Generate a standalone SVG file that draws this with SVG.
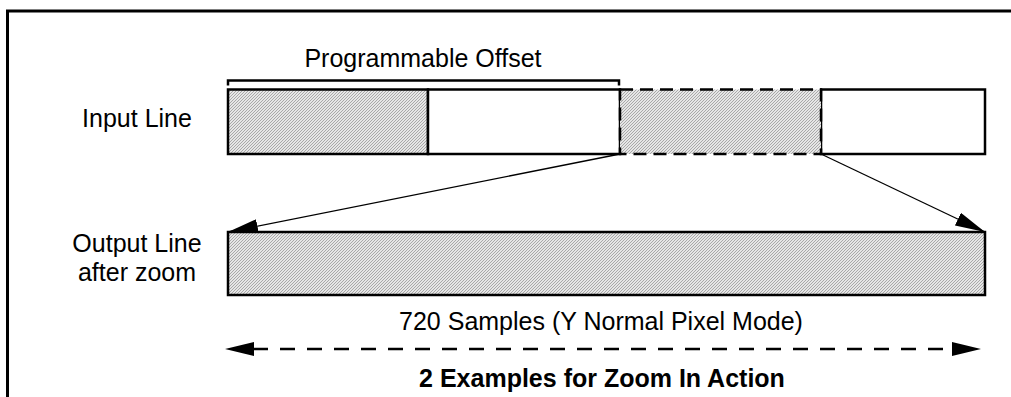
<svg xmlns="http://www.w3.org/2000/svg" width="1011" height="397" viewBox="0 0 1011 397">
  <style>
    .lbl { font-family: "Liberation Sans", Arial, Helvetica, sans-serif; font-size: 25px; fill: #000; }
    .bold { font-weight: bold; }
    .box { stroke: #000; stroke-width: 2.5; }
    .dash { stroke-dasharray: 13 7; }
    .conn { stroke: #000; stroke-width: 1.3; fill: none; }
  </style>
  <defs>
    <pattern id="hatch" width="3" height="3" patternUnits="userSpaceOnUse">
      <rect width="3" height="3" fill="#e6e6e6"/>
      <rect x="0" y="2" width="1" height="1" fill="#a8a8a8"/>
      <rect x="1" y="1" width="1" height="1" fill="#a8a8a8"/>
      <rect x="2" y="0" width="1" height="1" fill="#a8a8a8"/>
    </pattern>
    <marker id="ah" viewBox="0 0 30 14" refX="30" refY="7" markerWidth="30" markerHeight="14" markerUnits="userSpaceOnUse" orient="auto">
      <path d="M0 0 L30 7 L0 14 Z" fill="#000"/>
    </marker>
  </defs>

  <g id="frame" fill="none" stroke="#000" stroke-width="3">
    <path d="M7.5 397 V11 H1011"/>
  </g>

  <g id="label-offset">
    <text class="lbl" x="423" y="67" text-anchor="middle">Programmable Offset</text>
    <path d="M228 85.5 V80.5 H619 V85.5" fill="none" stroke="#000" stroke-width="2.5"/>
  </g>

  <g id="label-input"><text class="lbl" x="137" y="127" text-anchor="middle">Input Line</text></g>
  <g id="label-output">
    <text class="lbl" x="137" y="252" text-anchor="middle">Output Line</text>
    <text class="lbl" x="137" y="281" text-anchor="middle">after zoom</text>
  </g>

  <g id="input-line">
    <rect x="228" y="89.5" width="200" height="64.5" fill="url(#hatch)" class="box"/>
    <rect x="428" y="89.5" width="192" height="64.5" fill="#fff" class="box"/>
    <rect x="821" y="89.5" width="164" height="64.5" fill="#fff" class="box"/>
    <rect x="620" y="89.5" width="201" height="64.5" fill="url(#hatch)" stroke="none"/>
    <rect x="620" y="89.5" width="201" height="64.5" fill="none" class="box dash"/>
  </g>

  <g id="output-line">
    <rect x="228" y="232" width="757" height="63" fill="url(#hatch)" class="box"/>
  </g>

  <g id="connectors">
    <line class="conn" x1="620" y1="154" x2="228" y2="232" marker-end="url(#ah)"/>
    <line class="conn" x1="821" y1="154" x2="985" y2="232" marker-end="url(#ah)"/>
    <line x1="253" y1="349" x2="952" y2="349" stroke="#000" stroke-width="2.5" stroke-dasharray="15 12"/>
    <path d="M225 349 L254 342 L254 356 Z" fill="#000"/>
    <path d="M981 349 L952 342 L952 356 Z" fill="#000"/>
  </g>

  <g id="label-samples"><text class="lbl" x="601" y="330" text-anchor="middle">720 Samples (Y Normal Pixel Mode)</text></g>
  <g id="label-title"><text class="lbl bold" x="602" y="387" text-anchor="middle">2 Examples for Zoom In Action</text></g>
</svg>
